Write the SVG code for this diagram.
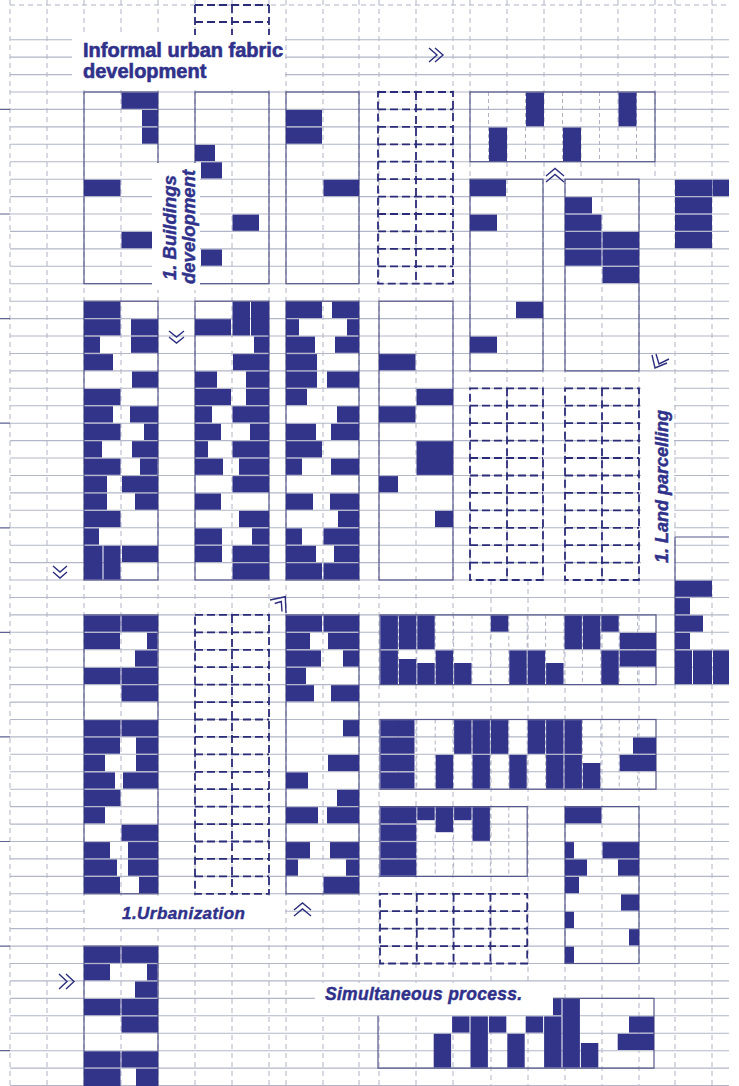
<svg xmlns="http://www.w3.org/2000/svg" width="739" height="1086" viewBox="0 0 739 1086">
<defs>
<style>
.gv{stroke:#a7aac0;stroke-width:0.9;stroke-dasharray:5 4;fill:none}
.gh{stroke:#b3b6c8;stroke-width:1.1;fill:none}
.tick{stroke:#5f6290;stroke-width:1.2}
.f{fill:#32348a}
.fr{fill:none;stroke:#55588a;stroke-width:1.2}
.sub{stroke:#a7aac0;stroke-width:0.9;stroke-dasharray:4 3;fill:none}
.db{fill:none;stroke:#2a2c78;stroke-width:1.8;stroke-dasharray:8 4}
.chev{fill:none;stroke:#2c2e7e;stroke-width:1.4;stroke-linejoin:miter}
.box{fill:#ffffff}
.t{font-family:"Liberation Sans",Arial,sans-serif;font-weight:bold;fill:#2f318a;stroke:#2f318a;stroke-width:0.6}
.ti{font-family:"Liberation Sans",Arial,sans-serif;font-weight:bold;font-style:italic;fill:#2f318a;stroke:#2f318a;stroke-width:0.45}
</style>
</defs>
<rect x="0" y="0" width="739" height="1086" fill="#ffffff"/>

<g id="grid">
<path class="gv" d="M10,0V1086M47,0V1086M84,0V1086M121,0V1086M158,0V1086M195,0V1086M232,0V1086M269,0V1086M286,0V1086M323,0V1086M359,0V1086M379,0V1086M416,0V1086M453,0V1086M675,0V1086M712,0V1086
M470,0V179M507,0V179M544,0V179M581,0V179M618,0V179M655,0V179
M470,179V580M507,179V580M543,179V580M565,179V580M602,179V580M639,179V580
M491,580V1086M528,580V1086M565,580V1086M602,580V1086M639,580V1086"/>
<path class="gv" d="M10,5H729"/>
<path class="gh" d="M10,39.7H729M10,57.1H729M10,74.6H729M10,92H729M10,109.4H729M10,126.9H729M10,144.3H729M10,161.7H729M10,179.2H729M10,196.6H729M10,214H729M10,231.4H729M10,248.9H729M10,266.3H729M10,283.7H729M10,301.2H729M10,318.6H729M10,336H729M10,353.5H729M10,370.9H729M10,388.3H729M10,405.7H729M10,423.2H729M10,440.6H729M10,458H729M10,475.5H729M10,492.9H729M10,510.3H729M10,527.8H729M10,545.2H729M10,562.6H729M10,580H729M10,597.5H729M10,614.9H729M10,632.3H729M10,649.8H729M10,667.2H729M10,684.6H729M10,702.1H729M10,719.5H729M10,736.9H729M10,754.3H729M10,771.8H729M10,789.2H729M10,806.6H729M10,824.1H729M10,841.5H729M10,858.9H729M10,876.4H729M10,893.8H729M10,911.2H729M10,928.6H729M10,946.1H729M10,963.5H729M10,980.9H729M10,998.4H729M10,1015.8H729M10,1033.2H729M10,1050.7H729M10,1068.1H729M10,1085.5H729"/>
<path class="tick" d="M0,109.4H10M0,214H10M0,318.6H10M0,423.2H10M0,527.8H10M0,632.3H10M0,736.9H10M0,841.5H10M0,946.1H10M0,1050.7H10"/>
</g>

<g id="block-top-dashed">
<path class="db" d="M195,5H269M195,22H269M195,5V36M232,5V36M269,5V36"/>
</g>

<g id="block-F1">
<rect class="fr" x="84" y="92" width="74" height="191.7"/>
<rect class="f" x="121.5" y="92.6" width="36.5" height="16.2"/>
<rect class="f" x="142" y="110" width="16" height="16.2"/>
<rect class="f" x="142" y="127.5" width="16" height="16.2"/>
<rect class="f" x="84" y="179.8" width="36.5" height="16.2"/>
<rect class="f" x="121.5" y="232" width="30.5" height="16.2"/>
</g>
<g id="block-F2">
<rect class="fr" x="195" y="92" width="74" height="191.7"/>
<rect class="f" x="195" y="144.9" width="20" height="16.2"/>
<rect class="f" x="201" y="162.3" width="21" height="16.2"/>
<rect class="f" x="232.5" y="214.6" width="26.5" height="16.2"/>
<rect class="f" x="201" y="249.5" width="21" height="16.2"/>
</g>
<g id="block-F3">
<rect class="fr" x="286" y="92" width="73" height="191.7"/>
<rect class="f" x="286" y="110" width="36" height="16.2"/>
<rect class="f" x="286" y="127.5" width="36" height="16.2"/>
<rect class="f" x="323.5" y="179.8" width="35.5" height="16.2"/>
</g>

<g id="block-D0">
<rect class="db" x="378" y="92" width="75" height="191.7"/>
<path class="db" d="M416,92V283.7M378,109.4H453M378,126.9H453M378,144.3H453M378,161.7H453M378,179.2H453M378,196.6H453M378,214H453M378,231.4H453M378,248.9H453M378,266.3H453"/>
</g>

<g id="block-T">
<path class="sub" d="M488.5,92V161.7M525.5,92V161.7M562.5,92V161.7M599.5,92V161.7M636.5,92V161.7"/>
<rect class="fr" x="470" y="92" width="185" height="69.7"/>
<rect class="f" x="526" y="92.6" width="18" height="33.7"/>
<rect class="f" x="618.5" y="92.6" width="18" height="33.7"/>
<rect class="f" x="489" y="127.5" width="18" height="33.7"/>
<rect class="f" x="563" y="127.5" width="18" height="33.7"/>
</g>

<g id="block-R1">
<rect class="fr" x="470" y="179.2" width="73" height="191.7"/>
<rect class="f" x="470" y="179.8" width="36" height="16.2"/>
<rect class="f" x="470" y="214.6" width="27" height="16.2"/>
<rect class="f" x="516" y="301.8" width="27" height="16.2"/>
<rect class="f" x="470" y="336.6" width="27" height="16.2"/>
</g>

<g id="block-R2">
<rect class="fr" x="565" y="179.2" width="74" height="191.7"/>
<rect class="f" x="565" y="197.2" width="27" height="16.2"/>
<rect class="f" x="565" y="214.6" width="36.5" height="16.2"/>
<rect class="f" x="565" y="232" width="36.5" height="16.2"/>
<rect class="f" x="565" y="249.5" width="36.5" height="16.2"/>
<rect class="f" x="602.5" y="232" width="36.5" height="16.2"/>
<rect class="f" x="602.5" y="249.5" width="36.5" height="16.2"/>
<rect class="f" x="602.5" y="266.9" width="36.5" height="16.2"/>
</g>

<g id="block-FR1">
<rect class="f" x="675" y="179.8" width="37" height="16.2"/>
<rect class="f" x="675" y="197.2" width="37" height="16.2"/>
<rect class="f" x="675" y="214.6" width="37" height="16.2"/>
<rect class="f" x="675" y="232" width="37" height="16.2"/>
<rect class="f" x="712.5" y="179.8" width="16.5" height="16.2"/>
</g>

<g id="block-L1">
<rect class="fr" x="84" y="301.2" width="74" height="278.8"/>
<rect class="f" x="84" y="301.8" width="36.5" height="16.2"/>
<rect class="f" x="84" y="319.2" width="36.5" height="16.2"/>
<rect class="f" x="131" y="319.2" width="27" height="16.2"/>
<rect class="f" x="84" y="336.6" width="16" height="16.2"/>
<rect class="f" x="131" y="336.6" width="27" height="16.2"/>
<rect class="f" x="84" y="354.1" width="29" height="16.2"/>
<rect class="f" x="132" y="371.5" width="26" height="16.2"/>
<rect class="f" x="84" y="388.9" width="36.5" height="16.2"/>
<rect class="f" x="84" y="406.3" width="29" height="16.2"/>
<rect class="f" x="130" y="406.3" width="28" height="16.2"/>
<rect class="f" x="84" y="423.8" width="36.5" height="16.2"/>
<rect class="f" x="144" y="423.8" width="14" height="16.2"/>
<rect class="f" x="84" y="441.2" width="18" height="16.2"/>
<rect class="f" x="132" y="441.2" width="26" height="16.2"/>
<rect class="f" x="84" y="458.6" width="36.5" height="16.2"/>
<rect class="f" x="140" y="458.6" width="17.5" height="16.2"/>
<rect class="f" x="84" y="476.1" width="23" height="16.2"/>
<rect class="f" x="122" y="476.1" width="36" height="16.2"/>
<rect class="f" x="84" y="493.5" width="23" height="16.2"/>
<rect class="f" x="135" y="493.5" width="23" height="16.2"/>
<rect class="f" x="84" y="510.9" width="36.5" height="16.2"/>
<rect class="f" x="84" y="528.4" width="15" height="16.2"/>
<rect class="f" x="84" y="545.8" width="18.5" height="33.7"/>
<rect class="f" x="103.5" y="545.8" width="17" height="33.7"/>
<rect class="f" x="122" y="545.8" width="36" height="16.2"/>
</g>

<g id="block-L2">
<rect class="fr" x="195" y="301.2" width="74" height="278.8"/>
<rect class="f" x="232.5" y="301.8" width="17.5" height="33.7"/>
<rect class="f" x="251" y="301.8" width="18" height="33.7"/>
<rect class="f" x="195" y="319.2" width="36" height="16.2"/>
<rect class="f" x="254" y="336.6" width="15" height="16.2"/>
<rect class="f" x="233" y="354.1" width="36" height="16.2"/>
<rect class="f" x="195" y="371.5" width="22" height="16.2"/>
<rect class="f" x="246" y="371.5" width="23" height="16.2"/>
<rect class="f" x="195" y="388.9" width="36" height="16.2"/>
<rect class="f" x="246" y="388.9" width="23" height="16.2"/>
<rect class="f" x="195" y="406.3" width="17" height="16.2"/>
<rect class="f" x="232.5" y="406.3" width="36.5" height="16.2"/>
<rect class="f" x="195" y="423.8" width="26" height="16.2"/>
<rect class="f" x="250" y="423.8" width="19" height="16.2"/>
<rect class="f" x="195" y="441.2" width="13" height="16.2"/>
<rect class="f" x="232.5" y="441.2" width="36.5" height="16.2"/>
<rect class="f" x="195" y="458.6" width="28" height="16.2"/>
<rect class="f" x="239" y="458.6" width="30" height="16.2"/>
<rect class="f" x="232.5" y="476.1" width="36.5" height="16.2"/>
<rect class="f" x="195" y="493.5" width="26" height="16.2"/>
<rect class="f" x="239" y="510.9" width="30" height="16.2"/>
<rect class="f" x="195" y="528.4" width="27" height="16.2"/>
<rect class="f" x="252" y="528.4" width="17" height="16.2"/>
<rect class="f" x="195" y="545.8" width="27" height="16.2"/>
<rect class="f" x="232.5" y="545.8" width="36.5" height="16.2"/>
<rect class="f" x="232.5" y="563.2" width="36.5" height="16.2"/>
</g>

<g id="block-L3">
<rect class="fr" x="286" y="301.2" width="73" height="278.8"/>
<rect class="f" x="286" y="301.8" width="36" height="16.2"/>
<rect class="f" x="332" y="301.8" width="27" height="16.2"/>
<rect class="f" x="286" y="319.2" width="13" height="16.2"/>
<rect class="f" x="347" y="319.2" width="12" height="16.2"/>
<rect class="f" x="286" y="336.6" width="29" height="16.2"/>
<rect class="f" x="335" y="336.6" width="24" height="16.2"/>
<rect class="f" x="286" y="354.1" width="31" height="16.2"/>
<rect class="f" x="286" y="371.5" width="31" height="16.2"/>
<rect class="f" x="327" y="371.5" width="32" height="16.2"/>
<rect class="f" x="286" y="388.9" width="21" height="16.2"/>
<rect class="f" x="337" y="406.3" width="22" height="16.2"/>
<rect class="f" x="286" y="423.8" width="30" height="16.2"/>
<rect class="f" x="331" y="423.8" width="28" height="16.2"/>
<rect class="f" x="286" y="441.2" width="36" height="16.2"/>
<rect class="f" x="286" y="458.6" width="16" height="16.2"/>
<rect class="f" x="331" y="458.6" width="28" height="16.2"/>
<rect class="f" x="286" y="493.5" width="27" height="16.2"/>
<rect class="f" x="330" y="493.5" width="29" height="16.2"/>
<rect class="f" x="338" y="510.9" width="21" height="16.2"/>
<rect class="f" x="286" y="528.4" width="16" height="16.2"/>
<rect class="f" x="323.5" y="528.4" width="35.5" height="16.2"/>
<rect class="f" x="286" y="545.8" width="30" height="16.2"/>
<rect class="f" x="334" y="545.8" width="25" height="16.2"/>
<rect class="f" x="286" y="563.2" width="36" height="16.2"/>
<rect class="f" x="323.5" y="563.2" width="35.5" height="16.2"/>
</g>

<g id="block-M1">
<rect class="fr" x="379" y="301.2" width="74" height="278.8"/>
<rect class="f" x="379" y="354.1" width="36.5" height="16.2"/>
<rect class="f" x="416.5" y="388.9" width="36.5" height="16.2"/>
<rect class="f" x="379" y="406.3" width="36.5" height="16.2"/>
<rect class="f" x="416.5" y="441.2" width="36.5" height="33.7"/>
<rect class="f" x="379" y="476.1" width="19" height="16.2"/>
<rect class="f" x="435" y="510.9" width="18" height="16.2"/>
</g>

<g id="block-P1">
<rect class="db" x="470" y="388.3" width="73" height="191.7"/>
<path class="db" d="M507,388.3V580M470,405.7H543M470,423.2H543M470,440.6H543M470,458H543M470,475.5H543M470,492.9H543M470,510.3H543M470,527.8H543M470,545.2H543M470,562.6H543"/>
</g>
<g id="block-P2">
<rect class="db" x="565" y="388.3" width="74" height="191.7"/>
<path class="db" d="M602,388.3V580M565,405.7H639M565,423.2H639M565,440.6H639M565,458H639M565,475.5H639M565,492.9H639M565,510.3H639M565,527.8H639M565,545.2H639M565,562.6H639"/>
</g>

<g id="block-FR2">
<path class="fr" d="M675,684.6V537H729"/>
<rect class="f" x="675" y="580.6" width="37" height="16.2"/>
<rect class="f" x="675" y="598.1" width="15" height="16.2"/>
<rect class="f" x="675" y="615.5" width="28" height="16.2"/>
<rect class="f" x="675" y="632.9" width="15" height="16.2"/>
<rect class="f" x="675" y="650.4" width="17" height="33.7"/>
<rect class="f" x="693" y="650.4" width="19" height="33.7"/>
<rect class="f" x="713" y="650.4" width="16" height="33.7"/>
</g>

<g id="block-U1">
<rect class="fr" x="84" y="614.9" width="74" height="278.9"/>
<rect class="f" x="84" y="615.5" width="36.5" height="16.2"/>
<rect class="f" x="121.5" y="615.5" width="36.5" height="16.2"/>
<rect class="f" x="84" y="632.9" width="36" height="16.2"/>
<rect class="f" x="147" y="632.9" width="10.5" height="16.2"/>
<rect class="f" x="135" y="650.4" width="22.5" height="16.2"/>
<rect class="f" x="84" y="667.8" width="36.5" height="16.2"/>
<rect class="f" x="121.5" y="667.8" width="36.5" height="16.2"/>
<rect class="f" x="121.5" y="685.2" width="36.5" height="16.2"/>
<rect class="f" x="84" y="720.1" width="36.5" height="16.2"/>
<rect class="f" x="121.5" y="720.1" width="36.5" height="16.2"/>
<rect class="f" x="84" y="737.5" width="36" height="16.2"/>
<rect class="f" x="136" y="737.5" width="22" height="16.2"/>
<rect class="f" x="84" y="754.9" width="21" height="16.2"/>
<rect class="f" x="136" y="754.9" width="22" height="16.2"/>
<rect class="f" x="84" y="772.4" width="31" height="16.2"/>
<rect class="f" x="123" y="772.4" width="35" height="16.2"/>
<rect class="f" x="84" y="789.8" width="36.5" height="16.2"/>
<rect class="f" x="84" y="807.2" width="21" height="16.2"/>
<rect class="f" x="121.5" y="824.7" width="36.5" height="16.2"/>
<rect class="f" x="84" y="842.1" width="26" height="16.2"/>
<rect class="f" x="128" y="842.1" width="30" height="16.2"/>
<rect class="f" x="84" y="859.5" width="33" height="16.2"/>
<rect class="f" x="128" y="859.5" width="30" height="16.2"/>
<rect class="f" x="84" y="877" width="36" height="16.2"/>
<rect class="f" x="139" y="877" width="19" height="16.2"/>
</g>

<g id="block-D2">
<rect class="db" x="195" y="614.9" width="74" height="278.9"/>
<path class="db" d="M232,614.9V893.8M195,632.3H269M195,649.8H269M195,667.2H269M195,684.6H269M195,702.1H269M195,719.5H269M195,736.9H269M195,754.3H269M195,771.8H269M195,789.2H269M195,806.6H269M195,824.1H269M195,841.5H269M195,858.9H269M195,876.4H269"/>
</g>

<g id="block-U2">
<rect class="fr" x="286" y="614.9" width="73" height="278.9"/>
<rect class="f" x="286" y="615.5" width="36" height="16.2"/>
<rect class="f" x="323.5" y="615.5" width="35.5" height="16.2"/>
<rect class="f" x="286" y="632.9" width="24" height="16.2"/>
<rect class="f" x="328" y="632.9" width="31" height="16.2"/>
<rect class="f" x="286" y="650.4" width="35" height="16.2"/>
<rect class="f" x="343" y="650.4" width="16" height="16.2"/>
<rect class="f" x="286" y="667.8" width="20" height="16.2"/>
<rect class="f" x="286" y="685.2" width="28" height="16.2"/>
<rect class="f" x="331" y="685.2" width="28" height="16.2"/>
<rect class="f" x="343" y="720.1" width="16" height="16.2"/>
<rect class="f" x="328" y="754.9" width="31" height="16.2"/>
<rect class="f" x="286" y="772.4" width="22" height="16.2"/>
<rect class="f" x="337" y="789.8" width="22" height="16.2"/>
<rect class="f" x="286" y="807.2" width="32" height="16.2"/>
<rect class="f" x="327" y="807.2" width="32" height="16.2"/>
<rect class="f" x="286" y="842.1" width="24" height="16.2"/>
<rect class="f" x="330" y="842.1" width="29" height="16.2"/>
<rect class="f" x="286" y="859.5" width="12" height="16.2"/>
<rect class="f" x="346" y="859.5" width="13" height="16.2"/>
<rect class="f" x="323.5" y="877" width="35.5" height="16.2"/>
</g>

<g id="block-H1">
<path class="sub" d="M398.4,614.9V684.6M416.8,614.9V684.6M435.2,614.9V684.6M453.6,614.9V684.6M472,614.9V684.6M490.4,614.9V684.6M508.8,614.9V684.6M527.2,614.9V684.6M545.6,614.9V684.6M564,614.9V684.6M582.4,614.9V684.6M600.8,614.9V684.6M619.2,614.9V684.6M637.6,614.9V684.6"/>
<rect class="fr" x="380" y="614.9" width="276" height="69.7"/>
<rect class="f" x="380.5" y="615.5" width="17.4" height="33.7"/>
<rect class="f" x="398.9" y="615.5" width="17.4" height="33.7"/>
<rect class="f" x="417.3" y="615.5" width="17.4" height="33.7"/>
<rect class="f" x="490.9" y="615.5" width="17.4" height="16.2"/>
<rect class="f" x="564.5" y="615.5" width="17.4" height="33.7"/>
<rect class="f" x="582.9" y="615.5" width="17.4" height="33.7"/>
<rect class="f" x="601.3" y="615.5" width="17.4" height="16.2"/>
<rect class="f" x="619.7" y="632.9" width="36.3" height="16.2"/>
<rect class="f" x="380.5" y="650.4" width="17.4" height="33.7"/>
<rect class="f" x="398.9" y="659" width="17.4" height="25.1"/>
<rect class="f" x="417.3" y="663" width="17.4" height="21.1"/>
<rect class="f" x="435.7" y="650.4" width="17.4" height="33.7"/>
<rect class="f" x="454.1" y="663" width="17.4" height="21.1"/>
<rect class="f" x="509.3" y="650.4" width="17.4" height="33.7"/>
<rect class="f" x="527.7" y="650.4" width="17.4" height="33.7"/>
<rect class="f" x="546.1" y="663" width="17.4" height="21.1"/>
<rect class="f" x="601.3" y="650.4" width="17.4" height="33.7"/>
<rect class="f" x="619.7" y="650.4" width="36.3" height="16.2"/>
</g>

<g id="block-H2">
<path class="sub" d="M398.4,719.5V789.2M416.8,719.5V789.2M435.2,719.5V789.2M453.6,719.5V789.2M472,719.5V789.2M490.4,719.5V789.2M508.8,719.5V789.2M527.2,719.5V789.2M545.6,719.5V789.2M564,719.5V789.2M582.4,719.5V789.2M600.8,719.5V789.2M619.2,719.5V789.2M637.6,719.5V789.2"/>
<rect class="fr" x="380" y="719.5" width="276" height="69.7"/>
<rect class="f" x="380.5" y="720.1" width="34" height="16.2"/>
<rect class="f" x="380.5" y="737.5" width="34" height="16.2"/>
<rect class="f" x="380.5" y="754.9" width="34" height="16.2"/>
<rect class="f" x="380.5" y="772.4" width="34" height="16.2"/>
<rect class="f" x="454.1" y="720.1" width="17.4" height="33.7"/>
<rect class="f" x="472.5" y="720.1" width="17.4" height="33.7"/>
<rect class="f" x="490.9" y="720.1" width="17.4" height="33.7"/>
<rect class="f" x="527.7" y="720.1" width="17.4" height="33.7"/>
<rect class="f" x="546.1" y="720.1" width="17.4" height="33.7"/>
<rect class="f" x="564.5" y="720.1" width="17.4" height="33.7"/>
<rect class="f" x="435.7" y="754.9" width="17.4" height="33.7"/>
<rect class="f" x="472.5" y="754.9" width="17.4" height="33.7"/>
<rect class="f" x="509.3" y="754.9" width="17.4" height="33.7"/>
<rect class="f" x="546.1" y="754.9" width="17.4" height="33.7"/>
<rect class="f" x="564.5" y="754.9" width="17.4" height="33.7"/>
<rect class="f" x="582.9" y="763" width="17.4" height="25.6"/>
<rect class="f" x="633" y="737.5" width="23" height="16.2"/>
<rect class="f" x="619.7" y="754.9" width="36.3" height="16.2"/>
</g>

<g id="block-H3">
<path class="sub" d="M398.4,806.6V876.4M416.8,806.6V876.4M435.2,806.6V876.4M453.6,806.6V876.4M472,806.6V876.4M490.4,806.6V876.4M508.8,806.6V876.4"/>
<rect class="fr" x="380" y="806.6" width="147.2" height="69.8"/>
<rect class="f" x="380.5" y="807.2" width="35.8" height="16.2"/>
<rect class="f" x="380.5" y="824.7" width="35.8" height="16.2"/>
<rect class="f" x="380.5" y="842.1" width="35.8" height="16.2"/>
<rect class="f" x="380.5" y="859.5" width="35.8" height="16.2"/>
<rect class="f" x="417.3" y="807.2" width="17.4" height="13"/>
<rect class="f" x="435.7" y="807.2" width="17.4" height="25"/>
<rect class="f" x="454.1" y="807.2" width="17.4" height="13"/>
<rect class="f" x="472.5" y="807.2" width="17.4" height="33.7"/>
</g>

<g id="block-H4">
<rect class="fr" x="565" y="806.6" width="74" height="156.9"/>
<rect class="f" x="565" y="807.2" width="36.5" height="16.2"/>
<rect class="f" x="565" y="842.1" width="9" height="16.2"/>
<rect class="f" x="602.5" y="842.1" width="36.5" height="16.2"/>
<rect class="f" x="565" y="859.5" width="22" height="16.2"/>
<rect class="f" x="618" y="859.5" width="21" height="16.2"/>
<rect class="f" x="565" y="877" width="14" height="16.2"/>
<rect class="f" x="621" y="894.4" width="18" height="16.2"/>
<rect class="f" x="565" y="911.8" width="9" height="16.2"/>
<rect class="f" x="629" y="929.2" width="10" height="16.2"/>
<rect class="f" x="565" y="946.7" width="9" height="16.2"/>
</g>

<g id="block-H5">
<rect class="db" x="380" y="893.8" width="147.2" height="69.7"/>
<path class="db" d="M416.8,893.8V963.5M453.6,893.8V963.5M490.4,893.8V963.5M380,911.2H527.2M380,928.6H527.2M380,946.1H527.2"/>
</g>

<g id="block-H6">
<path class="fr" d="M553,998.4H654V1068.1H378V1015.8"/>
<rect class="f" x="433.7" y="1033.8" width="17.4" height="33.7"/>
<rect class="f" x="452.1" y="1016.4" width="17.4" height="16.2"/>
<rect class="f" x="470.5" y="1016.4" width="17.4" height="51.1"/>
<rect class="f" x="488.9" y="1016.4" width="17.4" height="16.2"/>
<rect class="f" x="507.3" y="1033.8" width="17.4" height="33.7"/>
<rect class="f" x="525.7" y="1016.4" width="17.4" height="16.2"/>
<rect class="f" x="544.1" y="1016.4" width="17.4" height="51.1"/>
<rect class="f" x="553" y="999" width="8.5" height="16.2"/>
<rect class="f" x="562.5" y="999" width="17.4" height="68.5"/>
<rect class="f" x="580.9" y="1043" width="17.4" height="24.5"/>
<rect class="f" x="629" y="1016.4" width="25" height="16.2"/>
<rect class="f" x="617.7" y="1033.8" width="36.3" height="16.2"/>
</g>

<g id="block-B1">
<path class="fr" d="M84,1086V946.1H158V1086"/>
<rect class="f" x="84" y="946.7" width="36.5" height="16.2"/>
<rect class="f" x="121.5" y="946.7" width="36.5" height="16.2"/>
<rect class="f" x="84" y="964.1" width="26" height="16.2"/>
<rect class="f" x="147" y="964.1" width="10.5" height="16.2"/>
<rect class="f" x="135" y="981.5" width="22.5" height="16.2"/>
<rect class="f" x="84" y="999" width="36.5" height="16.2"/>
<rect class="f" x="121.5" y="999" width="36.5" height="16.2"/>
<rect class="f" x="121.5" y="1016.4" width="36.5" height="16.2"/>
<rect class="f" x="84" y="1051.3" width="36.5" height="16.2"/>
<rect class="f" x="121.5" y="1051.3" width="36.5" height="16.2"/>
<rect class="f" x="84" y="1068.7" width="36.5" height="17.3"/>
<rect class="f" x="136" y="1068.7" width="22" height="17.3"/>
</g>

<g id="connectors">
<path class="chev" d="M429,48L437,55L429,62M435,48L443,55L435,62"/>
<path class="chev" d="M546,176L555,168.5L564,176M546,182L555,174.5L564,182"/>
<path class="chev" d="M169,331L176.5,337L184,331M169,337L176.5,343L184,337"/>
<path class="chev" d="M53,566L60,572L67,566M53,572L60,578L67,572"/>
<path class="chev" d="M652,355L655,368L667,363M656,354L659,364L669,359"/>
<path class="chev" d="M270,600L285.3,596.7L286,613M274.7,603.5L281.3,601.5L282,611.5"/>
<path class="chev" d="M294,910L302.5,903L311,910M294,916L302.5,909L311,916"/>
<path class="chev" d="M59,974L67,981.5L59,989M66,974L74,981.5L66,989"/>
</g>

<g id="label-title">
<rect class="box" x="72" y="35" width="213" height="55"/>
<text class="t" x="83" y="57" font-size="20">Informal urban fabric</text>
<text class="t" x="83" y="77.5" font-size="20">development</text>
</g>

<g id="label-buildings">
<rect class="box" x="152" y="163" width="48" height="127"/>
<text class="ti" font-size="18.5" transform="translate(176,280) rotate(-90)">1. Buildings</text>
<text class="ti" font-size="18.5" transform="translate(195,284) rotate(-90)">development</text>
</g>

<g id="label-land">
<rect class="box" x="641" y="376" width="33" height="202"/>
<text class="ti" font-size="18" transform="translate(668,563) rotate(-90)">1. Land parcelling</text>
</g>

<g id="label-urbanization">
<rect class="box" x="85" y="896" width="200" height="32"/>
<text class="ti" x="122" y="919" font-size="17" textLength="123">1.Urbanization</text>
</g>

<g id="label-simultaneous">
<rect class="box" x="315" y="983" width="238" height="32"/>
<text class="ti" x="325" y="1000" font-size="17.5" textLength="197">Simultaneous process.</text>
</g>
</svg>
